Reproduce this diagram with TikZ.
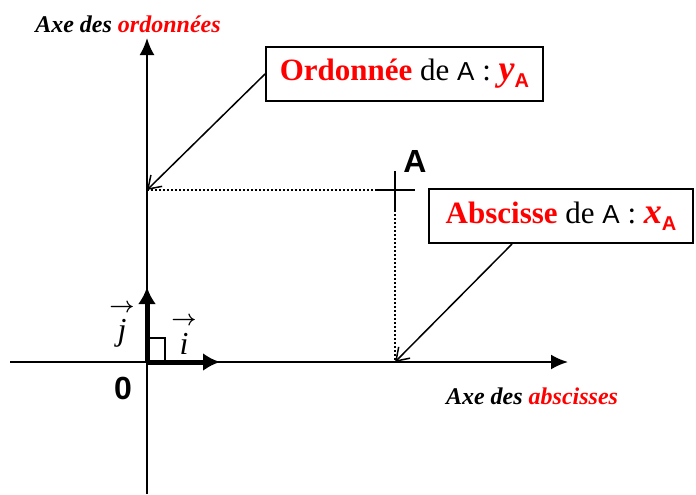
\documentclass[tikz,border=0pt]{standalone}
\usepackage{amsmath}
\usepackage{fontspec}
\setmainfont{Liberation Serif}
\setsansfont{Liberation Sans}
\usetikzlibrary{arrows.meta}
\definecolor{rouge}{RGB}{255,0,0}
\newcommand{\lettreA}{{\sffamily\fontsize{13}{14}\selectfont A}}
\newcommand{\indiceA}{\raisebox{-3.5pt}{\sffamily\bfseries\fontsize{10}{11}\selectfont A}}
\newcommand{\coord}[1]{{\fontsize{18}{18}\selectfont\textbf{\textit{#1}}}}

\begin{document}
\begin{tikzpicture}[x=0.5pt, y=-0.5pt,
        axe/.style={line width=1.1pt, -{Latex[length=8.5pt,width=7.5pt]}},
        vecteur/.style={line width=2.5pt, -{Latex[length=8.5pt,width=9pt]}},
        pointille/.style={line width=1pt, dash pattern=on 1pt off 1pt},
        fleche/.style={line width=0.75pt, -{Straight Barb[length=6pt,width=8pt]}},
        cadre/.style={draw, line width=1pt, fill=white, inner sep=0pt, minimum height=27pt, font=\fontsize{15.5}{18}\selectfont},
        titre/.style={font=\fontsize{12}{14}\selectfont\bfseries\itshape}]

        \useasboundingbox (0,0) rectangle (696,494);

        \coordinate (O) at (147,362);
        \coordinate (ybas) at (147,494);
        \coordinate (yhaut) at (147,38);
        \coordinate (xgauche) at (10,362);
        \coordinate (xdroite) at (568,362);
        \coordinate (jbout) at (147,287);
        \coordinate (ibout) at (220,362);
        \coordinate (A) at (395,190);
        \coordinate (yA) at (147,190);
        \coordinate (xA) at (395,362);

        \draw[axe] (ybas) -- (yhaut);
        \draw[axe] (xgauche) -- (xdroite);

        \draw[line width=1pt] (O) rectangle (165,338);
        \draw[vecteur] (O) -- (jbout);
        \draw[vecteur] (O) -- (ibout);

        \node[font=\fontsize{16}{18}\selectfont] (j) at (122,324) {$\overset{\boldsymbol{\rightarrow}}{\textit{j}}$};
        \node[font=\fontsize{16}{18}\selectfont] (i) at (184,334) {$\overset{\boldsymbol{\rightarrow}}{\textit{i}}$};
        \node[font=\sffamily\bfseries\fontsize{16}{18}\selectfont] (zero) at (123,388) {0};

        \draw[pointille] (yA) -- (A);
        \draw[pointille] (A) -- (xA);
        \draw[line width=0.75pt] (375,190) -- (415,190);
        \draw[line width=0.75pt] (395,171) -- (395,210);
        \node[font=\sffamily\bfseries\fontsize{16}{18}\selectfont] (nomA) at (415,161) {A};

        \node[titre] (axeord) at (128,24) {Axe des \textcolor{rouge}{ordonnées}};
        \node[titre] (axeabs) at (532,396) {Axe des \textcolor{rouge}{abscisses}};

        \node[cadre, minimum width=138.5pt] (ordo) at (404.5,74)
            {\textcolor{rouge}{\textbf{Ordonnée}} de \lettreA{} : \textcolor{rouge}{\coord{y}\indiceA}};
        \node[cadre, minimum width=132pt] (absc) at (561,216)
            {\textcolor{rouge}{\textbf{Abscisse}} de \lettreA{} : \textcolor{rouge}{\coord{x}\indiceA}};

        \draw[fleche] (ordo.west) -- (yA);
        \draw[fleche] ([xshift=-24.5pt]absc.south) -- (xA);

\end{tikzpicture}
\end{document}
